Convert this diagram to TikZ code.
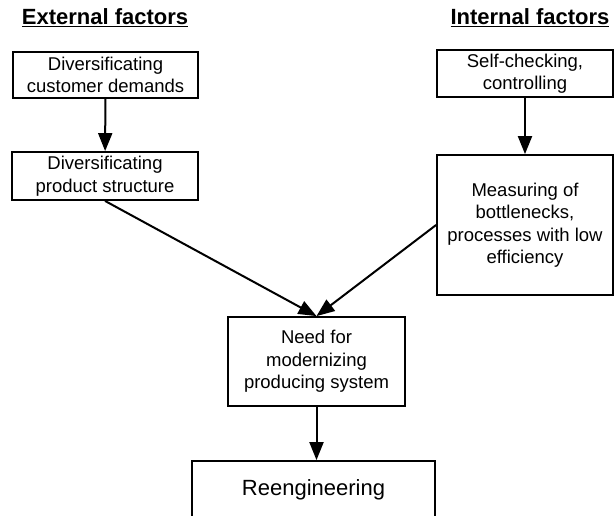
\documentclass[tikz,border=0pt]{standalone}
\usepackage{fontspec}
\setmainfont{Liberation Sans}
\usetikzlibrary{arrows.meta}

\begin{document}
\begin{tikzpicture}[x=1pt,y=-1pt,
    factorbox/.style={draw,line width=1.8pt,align=center,inner sep=0pt,font=\fontsize{18.5}{22.5}\selectfont},
    factortitle/.style={font=\fontsize{22}{26}\selectfont\bfseries},
    factorarrow/.style={line width=2pt,-{Triangle[length=18pt,width=14pt]}}]
        \useasboundingbox (0,0) rectangle (614,515);
        \node[factortitle] (exttitle) at (105,18) {\underline{External factors}};
        \node[factortitle] (inttitle) at (530,18) {\underline{Internal factors}};
        \node[factorbox,minimum width=185pt,minimum height=46pt] (demands) at (105.5,75) {Diversificating\\customer demands};
        \node[factorbox,minimum width=186pt,minimum height=48pt] (structure) at (105,176) {Diversificating\\product structure};
        \node[factorbox,minimum width=176pt,minimum height=47pt] (selfcheck) at (525,73.5) {Self-checking,\\controlling};
        \node[factorbox,minimum width=176pt,minimum height=140pt] (measuring) at (525,225) {Measuring of\\bottlenecks,\\processes with low\\efficiency};
        \node[factorbox,minimum width=177pt,minimum height=89pt] (need) at (316.5,361.5) {Need for\\modernizing\\producing system};
        \node[factorbox,minimum width=243pt,minimum height=58pt,font=\fontsize{22}{26}\selectfont] (reeng) at (313.5,490) {Reengineering};
        \draw[factorarrow] (demands) -- (structure);
        \draw[factorarrow] (selfcheck) -- (measuring);
        \draw[factorarrow] (structure.south) -- (need.north);
        \draw[factorarrow] (measuring.west) -- (need.north);
        \draw[factorarrow] (need.south) -- (need.south |- reeng.north);
    \end{tikzpicture}
\end{document}
